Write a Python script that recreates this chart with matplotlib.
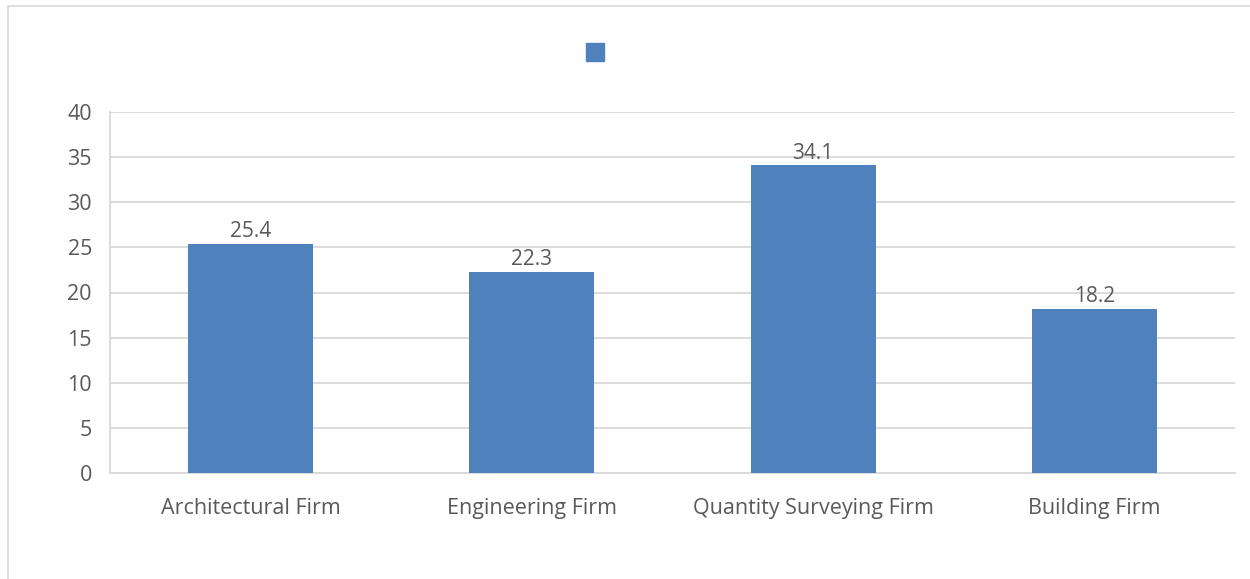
import matplotlib.pyplot as plt
from matplotlib.patches import Rectangle
from matplotlib.lines import Line2D

firms = ['Architectural Firm', 'Engineering Firm', 'Quantity Surveying Firm', 'Building Firm']
values = [25.4, 22.3, 34.1, 18.2]
yticks = [0, 5, 10, 15, 20, 25, 30, 35, 40]

blue = '#4F81BD'
txt = '#595959'
grid = '#D9D9D9'

plt.rcParams['font.family'] = ['Open Sans', 'DejaVu Sans']

fig = plt.figure(figsize=(12.5, 5.79), dpi=100)
ax = fig.add_axes([110 / 1250, 1 - 473 / 579, 1125 / 1250, 361 / 579])

x = range(len(firms))
bars = ax.bar(x, values, width=0.445, color=blue, zorder=3)
for b, v in zip(bars, values):
    ax.annotate(f'{v}', (b.get_x() + b.get_width() / 2, v), xytext=(0, 1),
                textcoords='offset points', ha='center', va='bottom',
                fontsize=15, color=txt)

ax.set_xlim(-0.5, len(firms) - 0.5)
ax.set_ylim(0, 40)
ax.set_yticks(yticks)
ax.set_xticks(list(x))
ax.set_xticklabels(firms)
ax.yaxis.grid(True, color=grid, linewidth=1.3, zorder=0)
ax.tick_params(axis='both', length=0, labelsize=15.5, colors=txt)
ax.tick_params(axis='x', pad=18)
ax.tick_params(axis='y', pad=13)
for s in ['top', 'right']:
    ax.spines[s].set_visible(False)
for s in ['left', 'bottom']:
    ax.spines[s].set_color(grid)
    ax.spines[s].set_linewidth(1.3)

# legend marker with no label
fig.legend(handles=[Line2D([], [], marker='s', color=blue, linestyle='none', markersize=13)],
           labels=[''], loc='center', bbox_to_anchor=(595 / 1250, 1 - 53 / 579),
           frameon=False, handletextpad=0)

# outer frame
fig.patches.append(Rectangle((8 / 1250, -0.01), 1.02, 1 - 6 / 579 + 0.01, transform=fig.transFigure,
                             fill=False, edgecolor='#D9D9D9', linewidth=1.2))

fig.savefig('out.png', dpi=100)
